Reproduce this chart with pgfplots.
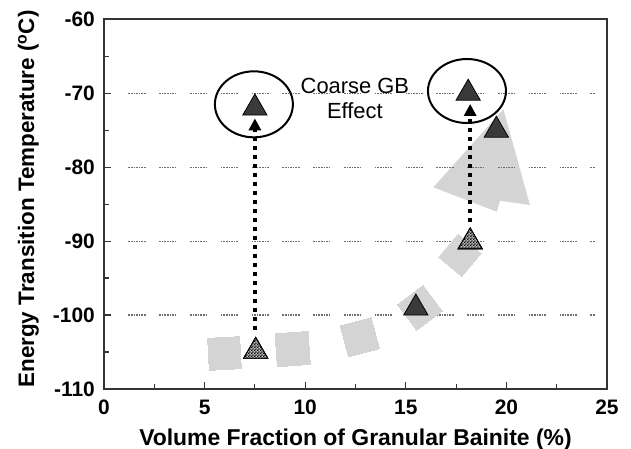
\documentclass[border=0pt]{standalone}
\usepackage{fontspec}
\setmainfont{Liberation Sans}
\usepackage{pgfplots}
\pgfplotsset{compat=1.18}
\usetikzlibrary{patterns,arrows.meta}
\definecolor{lgray}{HTML}{D4D4D4}
\definecolor{dtri}{HTML}{3A3A3A}
\definecolor{gridc}{HTML}{6E6E6E}
\definecolor{axc}{HTML}{333333}
\pgfdeclarepatternformonly{finecheck}{\pgfqpoint{0pt}{0pt}}{\pgfqpoint{3.2pt}{3.2pt}}{\pgfqpoint{3.2pt}{3.2pt}}{%
  \pgfpathrectangle{\pgfqpoint{0pt}{0pt}}{\pgfqpoint{1.6pt}{1.6pt}}%
  \pgfpathrectangle{\pgfqpoint{1.6pt}{1.6pt}}{\pgfqpoint{1.6pt}{1.6pt}}%
  \pgfusepath{fill}}
\tikzset{gridl/.style={gridc, line width=1.2bp, dash pattern=on 1.6bp off 1bp on 1.6bp off 1bp on 1.6bp off 1bp on 1.6bp off 1bp on 1.6bp off 1bp on 1.6bp off 1bp on 1.6bp off 13.6bp}}
\begin{document}
\begin{tikzpicture}
\useasboundingbox (-104bp,-60bp) rectangle (527bp,389bp);
\begin{axis}[
  at={(0,0)}, anchor=south west,
  scale only axis, width=503bp, height=369.7bp,
  xmin=0, xmax=25, ymin=-110, ymax=-60,
  axis line style={line width=1.8bp, draw=axc},
  xtick={0,5,10,15,20,25}, xticklabels={0,5,10,15,20,25},
  minor xtick={2.5,7.5,12.5,17.5,22.5},
  ytick={-110,-100,-90,-80,-70,-60}, yticklabels={-110,-100,-90,-80,-70,-60},
  minor ytick={-105,-95,-85,-75,-65},
  xtick pos=bottom, ytick pos=left, tick align=inside,
  major tick length=7bp, minor tick length=5bp,
  tick style={line width=1.2bp, draw=axc},
  ticklabel style={font=\fontsize{21}{21}\selectfont\bfseries, inner sep=0pt},
  xticklabel style={anchor=base, yshift=-25.7bp},
  yticklabel style={anchor=east, xshift=-9bp},
  xlabel={Volume Fraction of Granular Bainite (\%)},
  xlabel style={font=\fontsize{23}{23}\selectfont\bfseries, at={(axis description cs:0.5,0)}, anchor=base, yshift=-56bp, inner sep=0pt},
  ylabel={Energy Transition Temperature (\textsuperscript{o}C)},
  ylabel style={font=\fontsize{22.5}{22.5}\selectfont\bfseries, at={(axis description cs:-0.139,0.514)}, anchor=base, inner sep=0pt},
]
% gray background shapes
\addplot[draw=none, fill=lgray] coordinates {(19.85,-72.17) (21.17,-85.11) (19.68,-84.53) (19.52,-86.02) (16.37,-82.72)} -- cycle;
\addplot[only marks, mark=square*, mark size=16bp, mark options={fill=lgray, draw=lgray, line width=0pt, rotate=3}] coordinates {(5.99,-105.2)};
\addplot[only marks, mark=square*, mark size=16.5bp, mark options={fill=lgray, draw=lgray, line width=0pt, rotate=4}] coordinates {(9.38,-104.6)};
\addplot[only marks, mark=square*, mark size=16bp, mark options={fill=lgray, draw=lgray, line width=0pt, rotate=15}] coordinates {(12.72,-103.0)};
\addplot[only marks, mark=square*, mark size=16bp, mark options={fill=lgray, draw=lgray, line width=0pt, rotate=37}] coordinates {(15.7,-99.0)};
\addplot[only marks, mark=square*, mark size=15bp, mark options={fill=lgray, draw=lgray, line width=0pt, rotate=50}] coordinates {(17.69,-91.9)};
% dashed grid lines
\addplot[gridl] coordinates {(1.21,-70) (24.4,-70)};
\addplot[gridl] coordinates {(1.21,-80) (24.4,-80)};
\addplot[gridl] coordinates {(1.21,-90) (24.4,-90)};
\addplot[gridl] coordinates {(1.21,-100) (24.4,-100)};
% dotted arrows
\addplot[black, line width=4bp, dash pattern=on 4bp off 5bp, -{Triangle[width=12bp,length=12bp]}] coordinates {(7.5,-102) (7.5,-73.4)};
\addplot[black, line width=4bp, dash pattern=on 4bp off 5bp, -{Triangle[width=12bp,length=12bp]}] coordinates {(18.2,-87.4) (18.2,-71.45)};
% hatched triangles (light underlay + checker pattern)
\addplot[only marks, mark=triangle*, mark size=14bp, mark options={draw=black, line width=0.8bp, fill=black!25}] coordinates {(7.54,-104.9) (18.2,-90.1)};
\addplot[only marks, mark=triangle*, mark size=14bp, mark options={draw=black, line width=0.8bp, pattern=finecheck, pattern color=black}] coordinates {(7.54,-104.9) (18.2,-90.1)};
% dark triangles
\addplot[only marks, mark=triangle*, mark size=14bp, mark options={fill=dtri, draw=black, line width=0.8bp}] coordinates {(7.5,-72) (18.1,-70) (19.5,-75) (15.5,-99.05)};
% circles
\draw[line width=2bp] (axis cs:7.45,-71.5) ellipse [x radius=39bp, y radius=33bp];
\draw[line width=2bp] (axis cs:18.04,-69.7) ellipse [x radius=39bp, y radius=32bp];
\node[font=\fontsize{22}{25}\selectfont, align=center, inner sep=0pt] at (axis cs:12.47,-70.66) {Coarse GB\\Effect};
\end{axis}
\end{tikzpicture}
\end{document}
